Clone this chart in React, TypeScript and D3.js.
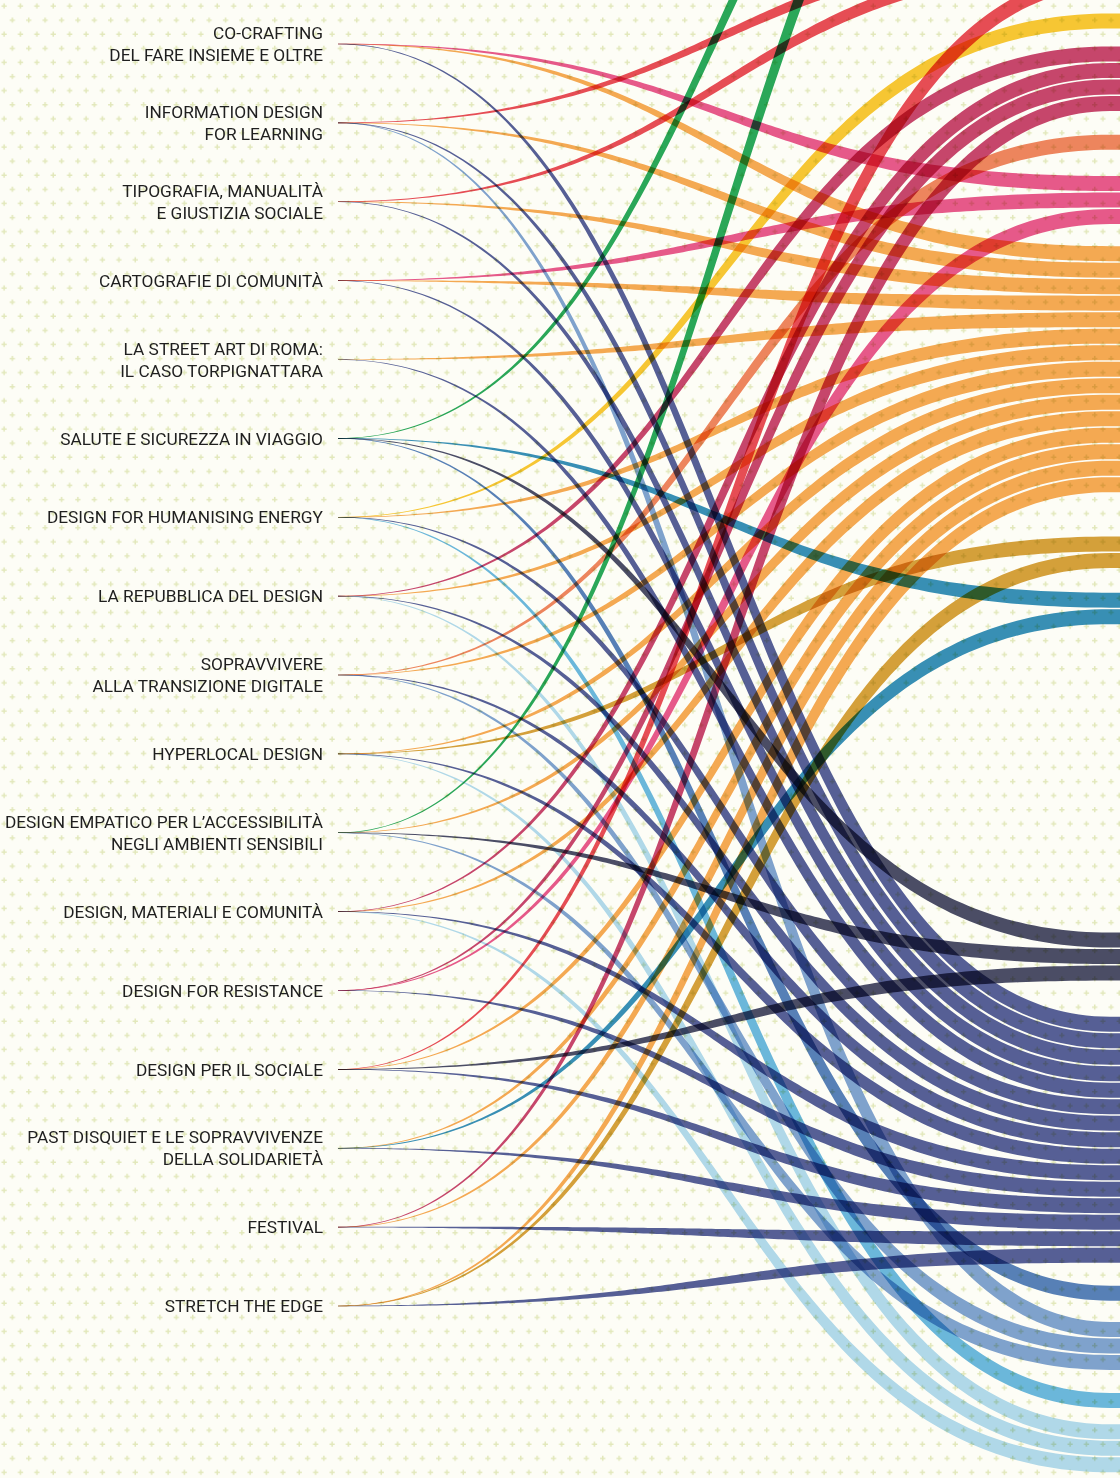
import React, { useEffect, useRef } from 'react';
import * as d3 from 'd3';

// left column: one entry per project, one string per label line
const projects: string[][] = [
  ['CO-CRAFTING', 'DEL FARE INSIEME E OLTRE'],
  ['INFORMATION DESIGN', 'FOR LEARNING'],
  ['TIPOGRAFIA, MANUALITÀ', 'E GIUSTIZIA SOCIALE'],
  ['CARTOGRAFIE DI COMUNITÀ'],
  ['LA STREET ART DI ROMA:', 'IL CASO TORPIGNATTARA'],
  ['SALUTE E SICUREZZA IN VIAGGIO'],
  ['DESIGN FOR HUMANISING ENERGY'],
  ['LA REPUBBLICA DEL DESIGN'],
  ['SOPRAVVIVERE', 'ALLA TRANSIZIONE DIGITALE'],
  ['HYPERLOCAL DESIGN'],
  ['DESIGN EMPATICO PER L’ACCESSIBILITÀ', 'NEGLI AMBIENTI SENSIBILI'],
  ['DESIGN, MATERIALI E COMUNITÀ'],
  ['DESIGN FOR RESISTANCE'],
  ['DESIGN PER IL SOCIALE'],
  ['PAST DISQUIET E LE SOPRAVVIVENZE', 'DELLA SOLIDARIETÀ'],
  ['FESTIVAL'],
  ['STRETCH THE EDGE'],
];

// right column: theme groups, top to bottom
const themes = [
  'green', 'red', 'yellow', 'crimson', 'coral', 'pink', 'orange', 'gold',
  'teal', 'slate', 'navy', 'blue', 'periwinkle', 'sky', 'ice',
];

const themeColors = [
  '#2aa85b', '#e84d57', '#f8c835', '#c8466f', '#ef8660', '#e85a8e', '#f6aa55', '#d6a13c',
  '#3890bb', '#4b4d69', '#57609b', '#5881bd', '#80a3d4', '#6cb9e2', '#b2daf1',
];

// themes reached by each project (same order as projects)
const projectThemes: string[][] = [
  ['pink', 'orange', 'navy'],
  ['red', 'orange', 'navy', 'periwinkle'],
  ['red', 'orange', 'navy'],
  ['pink', 'orange', 'navy'],
  ['orange', 'navy'],
  ['green', 'teal', 'slate', 'blue'],
  ['yellow', 'orange', 'navy', 'sky'],
  ['crimson', 'orange', 'navy', 'ice'],
  ['coral', 'orange', 'navy', 'periwinkle'],
  ['orange', 'gold', 'navy', 'ice'],
  ['green', 'orange', 'slate', 'periwinkle'],
  ['crimson', 'orange', 'navy', 'ice'],
  ['crimson', 'pink', 'navy'],
  ['red', 'orange', 'slate', 'navy'],
  ['orange', 'teal', 'navy'],
  ['crimson', 'orange', 'navy'],
  ['orange', 'gold', 'navy'],
];

// empty space before each theme group, in band slots
const themeGaps = [0, 19, 1.45, 1.0, 1.35, 1.5, 1.25, 2.6, 1.4, 18.6, 2.1, 1.3, 1.2, 1.3, 0.9];

const W = 1120;
const H = 1478;
const X0 = 338;
const X1 = 1110;
const XEND = 1130;
const LABEL_X = 323;
const W0 = 0.6;
const W1 = 15;

function ribbonPoints(y0: number, y1: number): [number, number][] {
  const xm = (X0 + X1) / 2;
  const N = 140;
  const upper: [number, number][] = [];
  const lower: [number, number][] = [];
  const widthAt = (x: number) => {
    const s = Math.max(0, Math.min(1, (x - X0) / (X1 - X0)));
    return W0 + (W1 - W0) * (s * s * (3 - 2 * s));
  };
  for (let i = 0; i <= N; i++) {
    const t = i / N;
    const u = 1 - t;
    const x = u * u * u * X0 + 3 * u * u * t * xm + 3 * u * t * t * xm + t * t * t * X1;
    const y = u * u * u * y0 + 3 * u * u * t * y0 + 3 * u * t * t * y1 + t * t * t * y1;
    const dx = 3 * u * u * (xm - X0) + 3 * t * t * (X1 - xm);
    const dy = 6 * u * t * (y1 - y0);
    const len = Math.hypot(dx, dy) || 1;
    const nx = -dy / len;
    const ny = dx / len;
    const hw = widthAt(x) / 2;
    upper.push([x + nx * hw, y + ny * hw]);
    lower.push([x - nx * hw, y - ny * hw]);
  }
  upper.push([XEND, y1 + W1 / 2]);
  lower.push([XEND, y1 - W1 / 2]);
  return upper.concat(lower.reverse());
}

export default function App() {
  const svgRef = useRef<SVGSVGElement>(null);

  useEffect(() => {
    if (!svgRef.current) return;
    const svg = d3.select(svgRef.current);
    svg.selectAll('*').remove();

    // background with small crosses
    const defs = svg.append('defs');
    const pat = defs.append('pattern')
      .attr('id', 'crosses')
      .attr('patternUnits', 'userSpaceOnUse')
      .attr('width', 16.4)
      .attr('height', 28.2);
    pat.append('rect').attr('width', 16.4).attr('height', 28.2).attr('fill', '#fdfdf6');
    [[4.1, 6], [12.3, 20.1]].forEach(([cx, cy]) => {
      pat.append('path')
        .attr('d', `M${cx - 2.6},${cy}H${cx + 2.6}M${cx},${cy - 2.6}V${cy + 2.6}`)
        .attr('stroke', '#e2e8bb')
        .attr('stroke-width', 1.5);
    });
    svg.append('rect').attr('width', W).attr('height', H).attr('fill', 'url(#crosses)');

    // left positions
    const yLeft = d3.scalePoint<number>()
      .domain(d3.range(projects.length))
      .range([44, 1306]);

    // right slots: stack the links of every theme group, in project order
    const color = d3.scaleOrdinal<string, string>().domain(themes).range(themeColors);
    const links: { src: number; theme: string; slot: number }[] = [];
    let cursor = 0;
    themes.forEach((th, ti) => {
      cursor += themeGaps[ti];
      projectThemes.forEach((list, pi) => {
        if (list.includes(th)) {
          links.push({ src: pi, theme: th, slot: cursor });
          cursor += 1;
        }
      });
    });
    const yellowSlot = links.find(l => l.theme === 'yellow')!.slot;
    const yRight = d3.scaleLinear().domain([yellowSlot, yellowSlot + 1]).range([21, 37.5]);

    const line = d3.line();
    const g = svg.append('g');
    g.selectAll('path.link')
      .data(links)
      .join('path')
      .attr('class', 'link')
      .attr('d', d => line(ribbonPoints(yLeft(d.src)!, yRight(d.slot))) + 'Z')
      .attr('fill', d => color(d.theme))
      .style('mix-blend-mode', 'multiply');

    // labels
    const labels = svg.append('g')
      .attr('font-family', 'Roboto, "Open Sans", sans-serif')
      .attr('font-size', 17.3)
      .attr('fill', '#1f1f1f')
      .attr('text-anchor', 'end');
    projects.forEach((lines, i) => {
      const cy = yLeft(i)!;
      lines.forEach((txt, k) => {
        labels.append('text')
          .attr('x', LABEL_X)
          .attr('y', cy + (k - (lines.length - 1) / 2) * 22)
          .attr('dy', '0.36em')
          .text(txt);
      });
    });
  }, []);

  return (
    <div style={{ position: 'absolute', left: 0, top: 0, width: W, height: H, overflow: 'hidden' }}>
      <svg ref={svgRef} width={W} height={H} style={{ display: 'block' }} />
    </div>
  );
}
